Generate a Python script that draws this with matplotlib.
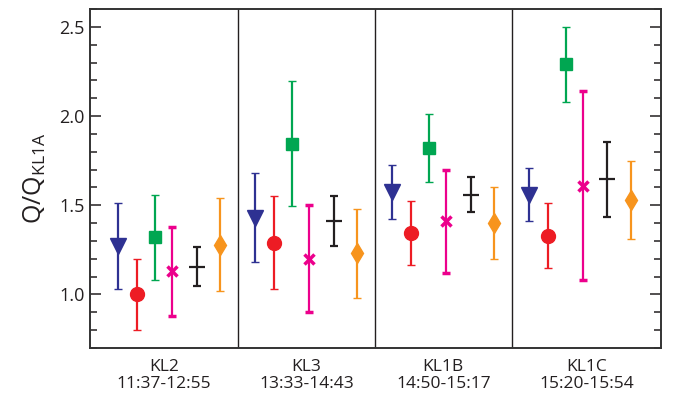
import matplotlib
matplotlib.use("Agg")
import matplotlib.pyplot as plt
from matplotlib.ticker import MultipleLocator, FixedLocator

plt.rcParams['font.family'] = ['Open Sans', 'DejaVu Sans']
plt.rcParams['mathtext.fontset'] = 'custom'
plt.rcParams['mathtext.rm'] = 'Open Sans'

groups = ["KL2\n11:37-12:55", "KL3\n13:33-14:43", "KL1B\n14:50-15:17", "KL1C\n15:20-15:54"]
group_pos = [1, 2, 3, 4]

blue_val = [1.27, 1.43, 1.575, 1.56]
blue_err = [0.24, 0.25, 0.15, 0.15]
red_val = [1.00, 1.29, 1.345, 1.33]
red_err = [0.20, 0.26, 0.18, 0.18]
green_val = [1.32, 1.845, 1.82, 2.29]
green_err = [0.24, 0.35, 0.19, 0.21]
pink_val = [1.13, 1.20, 1.41, 1.61]
pink_err = [0.25, 0.30, 0.29, 0.53]
black_val = [1.155, 1.41, 1.56, 1.645]
black_err = [0.11, 0.14, 0.10, 0.21]
orange_val = [1.28, 1.23, 1.40, 1.53]
orange_err = [0.26, 0.25, 0.20, 0.22]

series = [
    (blue_val, blue_err, '#2e3192', 'v', 11, -0.372, 1.0),
    (red_val, red_err, '#ed1c24', 'o', 10, -0.237, 1.0),
    (green_val, green_err, '#00a651', 's', 8, -0.107, 1.0),
    (pink_val, pink_err, '#ec008c', 'x', 7, 0.022, 2.5),
    (black_val, black_err, '#231f20', '_', 12, 0.199, 1.6),
    (orange_val, orange_err, '#f7941d', 'd', 10.5, 0.372, 1.0),
]

fig = plt.figure(figsize=(6.75, 3.99), dpi=100)
ax = fig.add_axes([90/675, 1-348/399, (661-90)/675, (348-9)/399])

for vals, errs, col, mk, ms, off, mew in series:
    xs = [g + off for g in group_pos]
    ax.errorbar(xs, vals, yerr=errs, fmt=mk, color=col, ecolor=col,
                markersize=ms, markeredgewidth=mew, elinewidth=1.6,
                capsize=3, capthick=1.6, zorder=3)

for d in [1.5, 2.5, 3.5]:
    ax.axvline(d, color='#231f20', lw=1.0, zorder=1)

ax.set_xlim(0.42, 4.59)
ax.set_ylim(0.7, 2.6)

label_pos = [(0.42 + 1.5) / 2, 2.0, 3.0, (3.5 + 4.59) / 2]
ax.xaxis.set_major_locator(FixedLocator(label_pos))
ax.set_xticklabels(groups, fontsize=12.5, color='#231f20', linespacing=1.1)
ax.tick_params(axis='x', length=0, pad=8)

ax.set_yticks([1.0, 1.5, 2.0, 2.5])
ax.yaxis.set_minor_locator(MultipleLocator(0.1))
ax.set_yticklabels(['1.0', '1.5', '2.0', '2.5'], fontsize=13, color='#231f20')
ax.tick_params(axis='y', which='major', direction='in', length=8, width=1.1,
               left=True, right=True, color='#231f20', pad=4)
ax.tick_params(axis='y', which='minor', direction='in', length=5, width=1.1,
               left=True, right=True, color='#231f20')

for s in ax.spines.values():
    s.set_linewidth(1.4)
    s.set_color('#333333')

ax.set_ylabel(r'Q/Q$_{\mathrm{KL1A}}$', fontsize=18, color='#231f20', labelpad=8)

fig.savefig('out.png', dpi=100)
